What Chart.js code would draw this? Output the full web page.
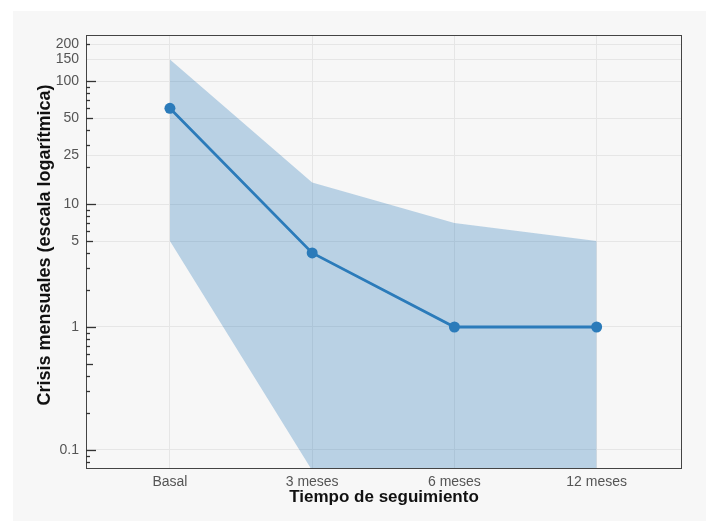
<!DOCTYPE html>
<html>
<head>
<meta charset="utf-8">
<script src="https://cdn.jsdelivr.net/npm/chart.js@4"></script>
<style>
  html, body { margin: 0; padding: 0; background: #ffffff; }
  #chart { position: absolute; left: 13px; top: 11px; background: #f7f7f7; }
</style>
</head>
<body>
<canvas id="chart" width="693" height="510"></canvas>
<script>
// Categories and series
const categories = ['Basal', '3 meses', '6 meses', '12 meses'];
const medianValues = [60, 4, 1, 1];
const upperValues = [150, 15, 7, 5];
const lowerValues = [5, 0.068, 0.068, 0.068];

// Labelled ticks on the log axis
const yTickValues = [0.1, 1, 5, 10, 25, 50, 100, 150, 200];
// Tick marks drawn inward: decades long, fives medium, the rest short
const yLongTicks = [0.1, 1, 10, 100];
const yMediumTicks = [0.5, 5, 50];
const yShortTicks = [0.08, 0.09, 0.2, 0.3, 0.4, 0.6, 0.7, 0.8, 0.9,
                     2, 3, 4, 6, 7, 8, 9, 20, 30, 40, 60, 70, 80, 90, 200];

const yTitle = 'Crisis mensuales (escala logarítmica)';
const lineColor = '#2b7bba';
const bandColor = 'rgba(43, 123, 186, 0.3)';
const fontFamily = '"Liberation Sans", Arial, sans-serif';

function toPoints(values) {
    return values.map((v, i) => ({ x: i, y: v }));
}

// Frame around the plot, the inward tick marks and the y title
const framePlugin = {
    id: 'frame',
    afterDraw(chart) {
        const ctx = chart.ctx;
        const area = chart.chartArea;
        const yScale = chart.scales.y;
        ctx.save();
        ctx.strokeStyle = '#444';
        ctx.lineWidth = 1;
        ctx.strokeRect(area.left + 0.5, area.top + 0.5, area.right - area.left - 1, area.bottom - area.top - 1);

        const drawTicks = (values, len) => {
            values.forEach(v => {
                const y = Math.round(yScale.getPixelForValue(v)) + 0.5;
                if (y < area.top || y > area.bottom) return;
                ctx.beginPath();
                ctx.moveTo(area.left, y);
                ctx.lineTo(area.left + len, y);
                ctx.stroke();
            });
        };
        ctx.strokeStyle = '#333';
        ctx.lineWidth = 1.3;
        drawTicks(yLongTicks, 10);
        drawTicks(yMediumTicks, 7);
        drawTicks(yShortTicks, 4);

        // y title, a little above the axis centre as in the original
        ctx.translate(32, (area.top + area.bottom) / 2 - 7);
        ctx.rotate(-Math.PI / 2);
        ctx.fillStyle = '#111';
        ctx.font = 'bold 18px ' + fontFamily;
        ctx.textAlign = 'center';
        ctx.textBaseline = 'middle';
        ctx.fillText(yTitle, 0, 0);
        ctx.restore();
    }
};

const ctx = document.getElementById('chart').getContext('2d');
const chart = new Chart(ctx, {
    type: 'line',
    data: {
        datasets: [
            {
                label: 'Mediana',
                data: toPoints(medianValues),
                borderColor: lineColor,
                backgroundColor: lineColor,
                borderWidth: 2.8,
                pointRadius: 5.5,
                pointBackgroundColor: lineColor,
                pointBorderWidth: 0,
                fill: false,
                tension: 0
            },
            {
                label: 'Superior',
                data: toPoints(upperValues),
                borderWidth: 0,
                pointRadius: 0,
                backgroundColor: bandColor,
                fill: '+1',
                tension: 0
            },
            {
                label: 'Inferior',
                data: toPoints(lowerValues),
                borderWidth: 0,
                pointRadius: 0,
                backgroundColor: bandColor,
                fill: false,
                tension: 0
            }
        ]
    },
    options: {
        responsive: false,
        animation: false,
        layout: { padding: { top: 24, right: 24, left: 0, bottom: 0 } },
        plugins: {
            legend: { display: false },
            tooltip: { enabled: false }
        },
        scales: {
            x: {
                type: 'linear',
                min: -0.59,
                max: 3.6,
                afterBuildTicks: scale => {
                    scale.ticks = categories.map((c, i) => ({ value: i }));
                },
                afterFit: scale => { scale.height = 52; },
                ticks: {
                    callback: value => categories[value],
                    color: '#555',
                    font: { family: fontFamily, size: 14 },
                    padding: 5,
                    maxRotation: 0,
                    autoSkip: false
                },
                grid: { color: '#e6e6e6', lineWidth: 1, drawTicks: false },
                border: { display: false },
                title: {
                    display: true,
                    text: 'Tiempo de seguimiento',
                    color: '#111',
                    font: { family: fontFamily, size: 17, weight: 'bold' },
                    padding: { top: 0, bottom: 13 }
                }
            },
            y: {
                type: 'logarithmic',
                min: 0.07,
                max: 237,
                afterBuildTicks: scale => {
                    scale.ticks = yTickValues.map(v => ({ value: v }));
                },
                afterFit: scale => { scale.width = 73; },
                ticks: {
                    callback: value => String(value),
                    color: '#555',
                    font: { family: fontFamily, size: 14 },
                    padding: 7,
                    autoSkip: false
                },
                grid: { color: '#e6e6e6', lineWidth: 1, drawTicks: false },
                border: { display: false }
            }
        }
    },
    plugins: [framePlugin]
});
</script>
</body>
</html>
